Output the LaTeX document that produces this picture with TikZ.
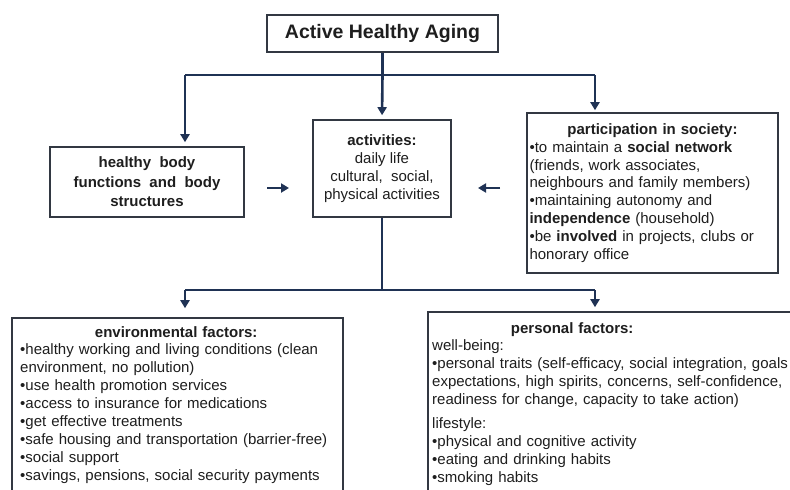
\documentclass[tikz,border=0pt]{standalone}
\usepackage{fontspec}
\setmainfont{Liberation Sans}
\usetikzlibrary{arrows.meta,calc}
\definecolor{navy}{RGB}{31,50,84}
\definecolor{boxline}{RGB}{50,56,66}
\definecolor{txt}{RGB}{30,30,30}
\begin{document}
\begin{tikzpicture}[x=1pt,y=-1pt,
  box/.style={draw=boxline, line width=1.6pt, fill=white, inner sep=0pt, text=txt},
  conn/.style={draw=navy, line width=2.6pt},
  arr/.style={conn, -{Triangle[width=9pt,length=8pt]}, shorten >=4pt},
  body/.style={font=\fontsize{15}{17.9}\selectfont, text=txt, inner sep=0pt}]
\useasboundingbox (0,0) rectangle (790,490);
\clip (0,0) rectangle (790,490);

% boxes
\node[box, minimum width=231, minimum height=37] (title) at (382.5,33.5)
  {\fontsize{19.5}{22}\selectfont\bfseries Active Healthy Aging};
\node[box, minimum width=194, minimum height=70, align=center,
  font=\fontsize{15}{19.5}\selectfont\bfseries] (healthy) at (147,182)
  {healthy\ \ body\\functions\ \ and\ \ body\\structures};
\node[box, minimum width=138, minimum height=97, align=center,
  font=\fontsize{15}{18}\selectfont] (act) at (382,168.5)
  {\textbf{activities:}\\daily life\\cultural,\ \ social,\\physical activities};
\node[box, minimum width=251, minimum height=160, text width=246, align=left,
  font=\fontsize{15}{17.9}\selectfont] (part) at (652.5,193)
  {\makebox[246pt]{\textbf{participation in society:}}\\
   •to maintain a \textbf{social network}\\
   (friends, work associates,\\
   neighbours and family members)\\
   •maintaining autonomy and\\
   \textbf{independence} (household)\\
   •be \textbf{involved} in projects, clubs or\\
   honorary office};

\node[box, minimum width=331, minimum height=400] (env) at (177.5,518) {};
\node[body, anchor=north west, text width=330, align=left] (envtext) at (20,326)
  {\makebox[312pt]{\textbf{environmental factors:}}\\
   •healthy working and living conditions (clean\\
   environment, no pollution)\\
   •use health promotion services\\
   •access to insurance for medications\\
   •get effective treatments\\
   •safe housing and transportation (barrier-free)\\
   •social support\\
   •savings, pensions, social security payments};

\node[box, minimum width=380, minimum height=400] (pers) at (618,512) {};
\node[body, anchor=north west, text width=370, align=left] (perstext) at (432,322)
  {\makebox[280pt]{\textbf{personal factors:}}\\
   well-being:\\
   •personal traits (self-efficacy, social integration, goals\\
   expectations, high spirits, concerns, self-confidence,\\
   readiness for change, capacity to take action)\\[6pt]
   lifestyle:\\
   •physical and cognitive activity\\
   •eating and drinking habits\\
   •smoking habits};

% connectors top
\coordinate (cL) at (185,75);
\coordinate (cR) at (595,75);
\draw[conn] (title.south) -- (title.south |- cL);
\draw[conn] (cL) -- (cR);
\draw[arr] (cL) -- (cL |- healthy.north);
\draw[arr] (title.south |- cL) -- (act.north);
\draw[arr, shorten >=2pt] (cR) -- (cR |- part.north);

% side arrows
\coordinate (sa1) at (267,188);
\coordinate (sa2) at (289,188);
\coordinate (sb1) at (500,188);
\coordinate (sb2) at (478,188);
\draw[conn, -{Triangle[width=9pt,length=8pt]}, line width=2.4pt] (sa1) -- (sa2);
\draw[conn, -{Triangle[width=9pt,length=8pt]}, line width=2.4pt] (sb1) -- (sb2);

% connectors bottom
\coordinate (bL) at (185,290);
\coordinate (bR) at (595,290);
\draw[conn] (act.south) -- (act.south |- bL);
\draw[conn] (bL) -- (bR);
\draw[arr, shorten >=9pt] (bL) -- (bL |- env.north);
\draw[arr] (bR) -- (bR |- pers.north);
\end{tikzpicture}
\end{document}
